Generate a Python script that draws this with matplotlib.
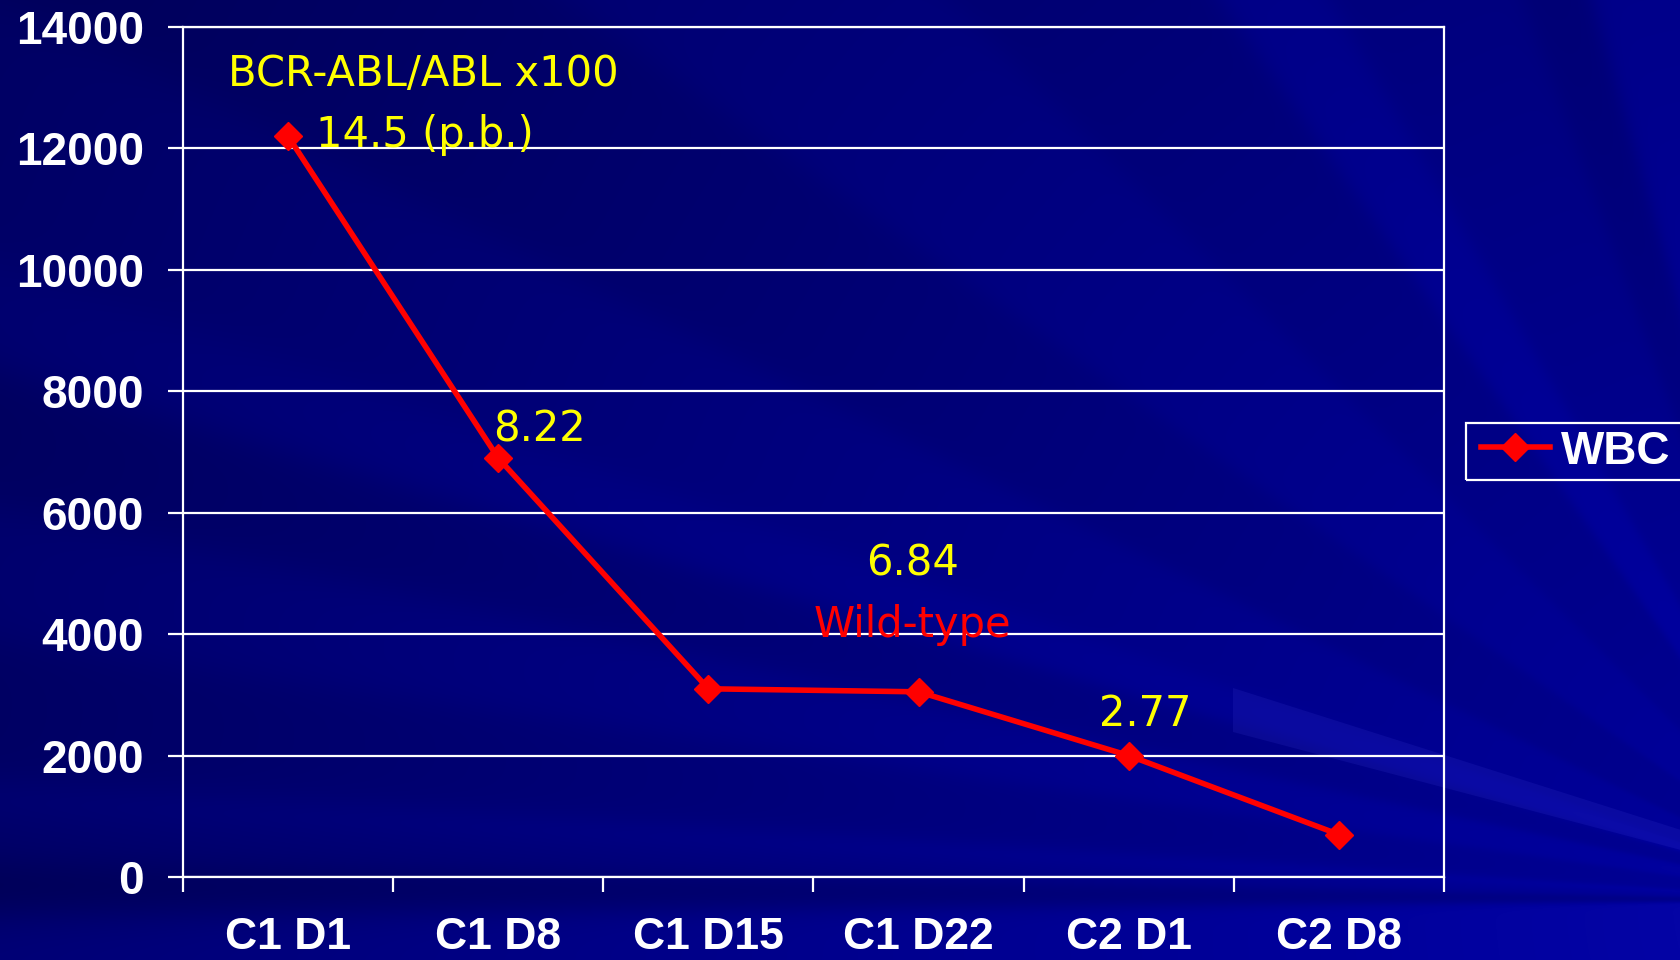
import numpy as np
import matplotlib
matplotlib.use("Agg")
import matplotlib.pyplot as plt
from matplotlib.patches import Rectangle, Polygon
from matplotlib.lines import Line2D
from matplotlib.font_manager import FontProperties

# ---- chart data -------------------------------------------------------------
categories = ["C1 D1", "C1 D8", "C1 D15", "C1 D22", "C2 D1", "C2 D8"]
wbc = [12200, 6900, 3100, 3050, 2000, 700]
y_ticks = [0, 2000, 4000, 6000, 8000, 10000, 12000, 14000]
series_name = "WBC"

ratio_header = "BCR-ABL/ABL x100"
ratio_labels = ["14.5 (p.b.)", "8.22", "6.84", "2.77"]
mutation_label = "Wild-type"

# ---- figure -----------------------------------------------------------------
W, H = 1681, 960
fig = plt.figure(figsize=(W / 100, H / 100), dpi=100)

# slide-style navy background with rays fanning out from the right
bg = fig.add_axes([0, 0, 1, 1], zorder=0)
yy, xx = np.mgrid[0:H, 0:W].astype(float)
cx, cy = 1850.0, 900.0
ang = np.degrees(np.arctan2(cy - yy, cx - xx))
r = np.hypot(cx - xx, cy - yy)
blue = 158 - 58 * (r / 2060)
edges = [-0.4, 1.15, 2.8, 3.6, 8, 12, 16, 19, 26, 35, 45, 55, 60, 70, 74]
levels = [12, -20, 0, 12, -6, 5, -8, 8, 0, -10, 0, -8, 8, -4, -14, 6]
shade = np.full_like(ang, levels[0], dtype=float)
for e, a, b in zip(edges, levels[:-1], levels[1:]):
    shade += (b - a) / (1 + np.exp(-(ang - e) / 0.35))
blue = np.clip(blue + shade, 0, 165)
rg = np.clip((blue - 155) * 0.4, 0, 255)
img = np.dstack([rg, rg, blue]) / 255.0
bg.imshow(img, extent=(0, W, H, 0), aspect="auto", interpolation="bilinear")
bg.add_patch(Polygon([(1233, 688), (W, 830), (W, 850), (1233, 732)],
                     closed=True, facecolor=(0.25, 0.25, 0.85), alpha=0.16,
                     edgecolor="none"))
bg.set_xlim(0, W)
bg.set_ylim(H, 0)
bg.set_axis_off()

# ---- main axes --------------------------------------------------------------
ax = fig.add_axes([183 / W, 1 - 877 / H, (1444 - 183) / W, (877 - 27) / H],
                  zorder=1)
ax.patch.set_alpha(0)

bold = FontProperties(family=["Liberation Sans", "DejaVu Sans"],
                      weight="bold", size=33)
bold_x = FontProperties(family=["Liberation Sans", "DejaVu Sans"],
                        weight="bold", size=32)

x = np.arange(len(categories))
ax.plot(x, wbc, color="#ff0000", lw=4, marker="D", ms=14,
        mfc="#ff0000", mec="#ff0000", zorder=3, clip_on=False,
        label=series_name)

ax.set_xlim(-0.5, len(categories) - 0.5)
ax.set_ylim(0, 14000)

ax.set_yticks(y_ticks)
ax.set_yticklabels([str(v) for v in y_ticks])
ax.yaxis.grid(True, color="white", lw=1.6)
ax.set_axisbelow(True)

ax.set_xticks(x)
ax.set_xticklabels(categories)
ax.set_xticks(np.arange(len(categories) + 1) - 0.5, minor=True)
ax.tick_params(axis="x", which="major", length=0, pad=29)
ax.tick_params(axis="x", which="minor", length=11, width=1.6,
               color="white", direction="out")
ax.tick_params(axis="y", length=11, width=1.6, color="white", pad=17)
for lab in ax.get_yticklabels():
    lab.set_fontproperties(bold)
    lab.set_color("white")
for lab in ax.get_xticklabels():
    lab.set_fontproperties(bold_x)
    lab.set_color("white")
for s in ax.spines.values():
    s.set_color("white")
    s.set_linewidth(1.6)

# ---- ratio annotations --------------------------------------------------------
note = dict(ha="center", va="baseline", fontsize=30,
            family=["DejaVu Sans"], color="#ffff00")
ax.text(0.642, 13028, ratio_header, **note)
ax.text(0.649, 12023, ratio_labels[0], **note)
ax.text(1.194, 7181, ratio_labels[1], **note)
ax.text(2.973, 4974, ratio_labels[2], **note)
ax.text(4.077, 2487, ratio_labels[3], **note)
ax.text(2.973, 3953, mutation_label, **{**note, "color": "#ff0000"})

# ---- legend -------------------------------------------------------------------
fig.add_artist(Rectangle((1466 / W, 1 - 480 / H), 300 / W, 57 / H,
                         transform=fig.transFigure, fill=False,
                         edgecolor="white", lw=1.6, zorder=2))
handle = Line2D([], [], color="#ff0000", lw=4, marker="D", ms=14,
                mfc="#ff0000", mec="#ff0000")
fig.legend(handles=[handle], labels=[series_name], loc="center left",
           bbox_to_anchor=(1481 / W, 1 - 451.5 / H), frameon=False,
           borderpad=0, borderaxespad=0, handlelength=1.5,
           handletextpad=0.25, prop=bold, labelcolor="white")

fig.savefig("out.png", dpi=100)
